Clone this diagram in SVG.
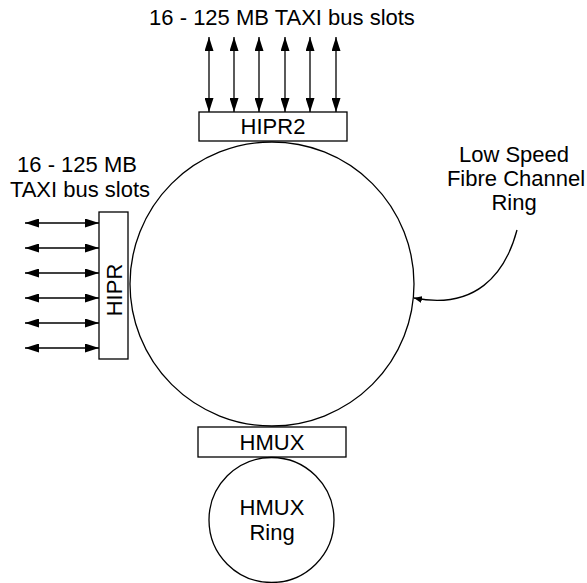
<svg xmlns="http://www.w3.org/2000/svg" width="587" height="583" viewBox="0 0 587 583">
<style>
text{font-family:"Liberation Sans",Arial,sans-serif;font-size:22px;fill:#000}
.box{fill:#fff;stroke:#000;stroke-width:1.3}
.ring{fill:none;stroke:#000;stroke-width:1.3}
.c{stroke:#000;stroke-width:1.3;fill:none}
</style>
<defs>
<marker id="ah" markerUnits="userSpaceOnUse" markerWidth="15" markerHeight="9" refX="14" refY="4.5" orient="auto-start-reverse">
<path d="M0,0 L14,4.5 L0,9 Z" fill="#000"/>
</marker>
<marker id="sm" markerUnits="userSpaceOnUse" markerWidth="9" markerHeight="7" refX="8" refY="3.5" orient="auto">
<path d="M0,0 L8,3.5 L0,7 Z" fill="#000"/>
</marker>
</defs>
<g id="connectors">
<line class="c" x1="209" y1="37" x2="209" y2="112" marker-start="url(#ah)" marker-end="url(#ah)"/>
<line class="c" x1="234" y1="37" x2="234" y2="112" marker-start="url(#ah)" marker-end="url(#ah)"/>
<line class="c" x1="259" y1="37" x2="259" y2="112" marker-start="url(#ah)" marker-end="url(#ah)"/>
<line class="c" x1="285" y1="37" x2="285" y2="112" marker-start="url(#ah)" marker-end="url(#ah)"/>
<line class="c" x1="310" y1="37" x2="310" y2="112" marker-start="url(#ah)" marker-end="url(#ah)"/>
<line class="c" x1="336" y1="37" x2="336" y2="112" marker-start="url(#ah)" marker-end="url(#ah)"/>
<line class="c" x1="25" y1="223" x2="99" y2="223" marker-start="url(#ah)" marker-end="url(#ah)"/>
<line class="c" x1="25" y1="248" x2="99" y2="248" marker-start="url(#ah)" marker-end="url(#ah)"/>
<line class="c" x1="25" y1="273" x2="99" y2="273" marker-start="url(#ah)" marker-end="url(#ah)"/>
<line class="c" x1="25" y1="298" x2="99" y2="298" marker-start="url(#ah)" marker-end="url(#ah)"/>
<line class="c" x1="25" y1="323" x2="99" y2="323" marker-start="url(#ah)" marker-end="url(#ah)"/>
<line class="c" x1="25" y1="348" x2="99" y2="348" marker-start="url(#ah)" marker-end="url(#ah)"/>
<path class="c" d="M517,230 C505,275 475,310 414,298" marker-end="url(#sm)"/>
</g>
<g id="fc-ring">
<circle class="ring" cx="272" cy="284" r="142"/>
<text x="514" y="162" text-anchor="middle">Low Speed</text>
<text x="516" y="186" text-anchor="middle">Fibre Channel</text>
<text x="514" y="210" text-anchor="middle">Ring</text>
</g>
<g id="hipr2">
<rect class="box" x="199" y="112" width="148" height="29"/>
<text x="273" y="134" text-anchor="middle">HIPR2</text>
<text x="282" y="25" text-anchor="middle">16 - 125 MB TAXI bus slots</text>
</g>
<g id="hipr">
<rect class="box" x="99" y="212" width="29" height="147"/>
<text transform="translate(122,290) rotate(-90)" text-anchor="middle">HIPR</text>
<text x="77" y="172" text-anchor="middle">16 - 125 MB</text>
<text x="80" y="197" text-anchor="middle">TAXI bus slots</text>
</g>
<g id="hmux">
<rect class="box" x="198" y="427" width="148" height="30"/>
<text x="272" y="450" text-anchor="middle">HMUX</text>
</g>
<g id="hmux-ring">
<circle class="ring" cx="271.5" cy="520" r="62.5"/>
<text x="272" y="515" text-anchor="middle">HMUX</text>
<text x="272" y="540" text-anchor="middle">Ring</text>
</g>
</svg>
